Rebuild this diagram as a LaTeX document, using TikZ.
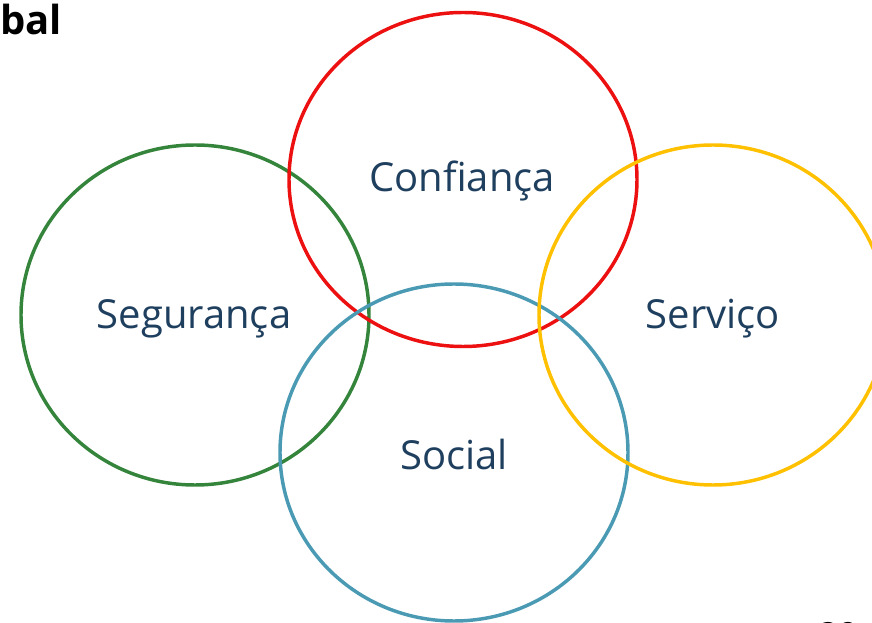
\documentclass[tikz,border=0pt]{standalone}
\usepackage{fontspec}
\setmainfont{Open Sans}
\definecolor{labelblue}{RGB}{31,63,95}
\tikzset{every picture/.style={line width=0.75pt}}
\tikzset{
	ring/.style={line width=2.6pt},
	ringlabel/.style={text=labelblue,font=\fontsize{30}{34}\selectfont}}

\begin{document}
\begin{tikzpicture}[x=0.75pt,y=0.75pt,yscale=-1,xscale=1]
	\useasboundingbox (0,0) rectangle (872,623); %set diagram to the page size

	%Shape: Ellipse [id:green] 
	\draw  [ring,color={rgb, 255:red, 52; green, 132; blue, 60 }  ,draw opacity=1 ] (195,315) ellipse (174 and 170) ;
	%Shape: Ellipse [id:red] 
	\draw  [ring,color={rgb, 255:red, 236; green, 16; blue, 16 }  ,draw opacity=1 ] (463,179.5) ellipse (174 and 167) ;
	%Shape: Ellipse [id:blue] 
	\draw  [ring,color={rgb, 255:red, 74; green, 154; blue, 180 }  ,draw opacity=1 ] (454,452.5) ellipse (174 and 168.5) ;
	%Shape: Ellipse [id:yellow] 
	\draw  [ring,color={rgb, 255:red, 255; green, 192; blue, 0 }  ,draw opacity=1 ] (713,315) ellipse (174 and 170) ;

	% Text Node
	\node [ringlabel] (confianca) at (462,181) {Confiança};
	% Text Node
	\node [ringlabel] (seguranca) at (194,319) {Segurança};
	% Text Node
	\node [ringlabel] (servico) at (713,319) {Serviço};
	% Text Node
	\node [ringlabel] (social) at (454,455) {Social};
	% Text Node
	\node [anchor=west,inner sep=0pt,font=\fontsize{30}{34}\selectfont\bfseries] (title) at (0,20) {bal};
	% Text Node
	\node [inner sep=0pt,font=\fontsize{26}{30}\selectfont\bfseries] (pagenum) at (838,635) {20};

\end{tikzpicture}
\end{document}
